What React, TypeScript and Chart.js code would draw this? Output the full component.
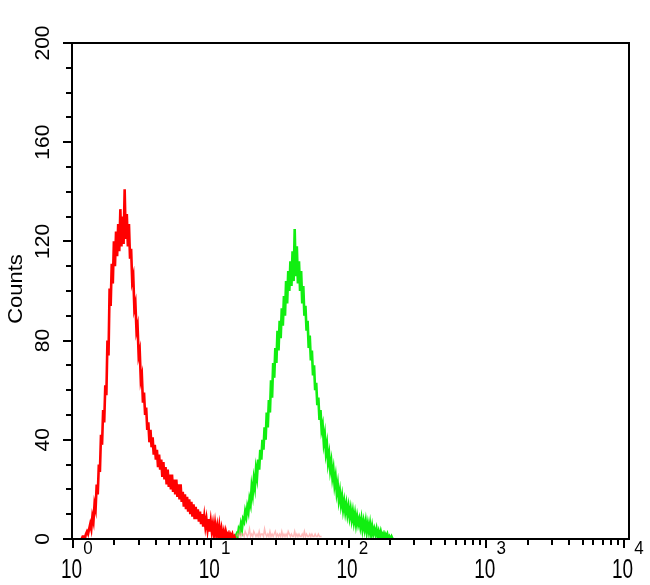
import React, { useEffect, useRef } from "react";
import { Chart, registerables } from "chart.js";

Chart.register(...registerables);

// Histogram binning: 128 channels per decade on a 4-decade log axis
const CHANNELS_PER_DECADE = 128;

// Red (control) histogram counts, starting at channel 8
const RED_START_CHANNEL = 8;
const redCounts = [
  0, 1, 1, 0, 2, 3, 2, 4, 6, 4, 9, 7, 14, 12, 22, 18, 30, 27, 42, 38,
  52, 47, 62, 58, 80, 74, 101, 94, 111, 103, 120, 110, 124, 114, 127, 116, 133, 118, 130, 119,
  141, 121, 131, 118, 127, 113, 117, 104, 106, 93, 95, 84, 86, 74, 76, 64, 66, 55, 59, 50,
  53, 44, 47, 39, 44, 37, 41, 34, 38, 32, 36, 29, 34, 28, 32, 25, 31, 24, 29, 22,
  28, 21, 26, 20, 26, 19, 24, 18, 24, 17, 22, 16, 22, 15, 19, 13, 18, 12, 17, 11,
  16, 10, 15, 9, 14, 8, 13, 8, 12, 7, 11, 6, 10, 5, 9, 5, 8, 4, 8, 3,
  7, 3, 6, 2, 6, 2, 5, 1, 5, 1, 4, 1, 3, 0, 3, 1, 2, 0, 2, 1,
  2, 0, 1, 0,
];

// Faint low-level tail of the red histogram, starting at channel 152
const RED_TAIL_START_CHANNEL = 152;
const redTailCounts = [
  1, 2, 1, 3, 1, 2, 2, 1, 3, 2, 1, 2, 4, 1, 2, 1, 3, 2, 1, 2,
  1, 3, 1, 2, 2, 1, 4, 2, 1, 2, 1, 3, 1, 2, 1, 2, 3, 1, 2, 1,
  2, 1, 3, 1, 2, 1, 2, 1, 3, 2, 1, 2, 1, 1, 3, 1, 2, 1, 2, 1,
  1, 2, 1, 3, 1, 2, 1, 1, 2, 1, 2, 1, 1, 2, 1, 1, 2, 1, 1, 1,
];

// Green (antibody) histogram counts, starting at channel 150
const GREEN_START_CHANNEL = 150;
const greenCounts = [
  0, 1, 2, 1, 4, 3, 6, 4, 8, 7, 11, 9, 13, 11, 16, 14, 21, 18, 24, 21,
  28, 25, 32, 28, 36, 32, 40, 36, 45, 40, 51, 45, 56, 51, 64, 57, 71, 65, 77, 71,
  84, 76, 88, 81, 93, 86, 98, 90, 104, 95, 108, 100, 112, 102, 116, 104, 125, 106, 118, 103,
  112, 100, 108, 95, 102, 90, 94, 84, 88, 77, 82, 72, 76, 66, 70, 60, 63, 54, 57, 48,
  52, 44, 46, 39, 42, 35, 38, 31, 34, 28, 31, 25, 28, 22, 25, 19, 22, 16, 19, 14,
  17, 12, 15, 11, 14, 10, 13, 9, 12, 8, 11, 7, 10, 6, 9, 6, 8, 5, 8, 4,
  7, 4, 7, 3, 6, 3, 6, 2, 5, 2, 4, 2, 4, 1, 3, 1, 3, 1, 2, 0,
  2, 1, 2, 0, 1, 0, 1, 0,
];

const yMajorTicks = [0, 40, 80, 120, 160, 200];
const yMinorStep = 10;
const xDecades = [0, 1, 2, 3, 4];
const yTitle = "Counts";

const FONT = '"Liberation Sans", Arial, sans-serif';

function toPoints(start: number, counts: number[]) {
  return counts.map((c, i) => ({
    x: Math.pow(10, (start + i) / CHANNELS_PER_DECADE),
    y: c,
  }));
}

const axesPlugin = {
  id: "facsAxes",
  afterDatasetsDraw(chart: any) {
    const { ctx, chartArea: a, scales } = chart;
    const xs = scales.x;
    const ys = scales.y;
    ctx.save();
    ctx.strokeStyle = "#000";
    ctx.fillStyle = "#000";
    ctx.lineWidth = 2;
    ctx.strokeRect(a.left, a.top, a.right - a.left, a.bottom - a.top);

    // Y ticks
    const yMax = yMajorTicks[yMajorTicks.length - 1];
    for (let v = 0; v <= yMax; v += yMinorStep) {
      const py = Math.round(ys.getPixelForValue(v));
      const major = yMajorTicks.includes(v);
      ctx.beginPath();
      ctx.moveTo(a.left, py);
      ctx.lineTo(a.left - (major ? 9 : 6), py);
      ctx.stroke();
    }
    // Y labels (rotated)
    ctx.font = `20px ${FONT}`;
    ctx.textAlign = "center";
    ctx.textBaseline = "middle";
    for (const v of yMajorTicks) {
      const py = ys.getPixelForValue(v);
      ctx.save();
      ctx.translate(a.left - 30, py);
      ctx.rotate(-Math.PI / 2);
      ctx.scale(1.05, 1);
      ctx.fillText(String(v), 0, 1);
      ctx.restore();
    }
    // Y title
    ctx.save();
    ctx.translate(16, (a.top + a.bottom) / 2 - 2);
    ctx.rotate(-Math.PI / 2);
    ctx.scale(1.1, 1);
    ctx.fillText(yTitle, 0, 0);
    ctx.restore();

    // X ticks
    for (let i = 0; i < xDecades.length; i++) {
      const d = xDecades[i];
      const base = Math.pow(10, d);
      const px = Math.round(xs.getPixelForValue(base));
      ctx.beginPath();
      ctx.moveTo(px, a.bottom);
      ctx.lineTo(px, a.bottom + 9);
      ctx.stroke();
      if (i < xDecades.length - 1) {
        for (let m = 2; m <= 9; m++) {
          const mx = Math.round(xs.getPixelForValue(m * base));
          ctx.beginPath();
          ctx.moveTo(mx, a.bottom);
          ctx.lineTo(mx, a.bottom + 6);
          ctx.stroke();
        }
      }
    }
    // X labels: 10 with superscript exponent (glyphs are vertically stretched)
    ctx.textAlign = "left";
    ctx.textBaseline = "alphabetic";
    for (const d of xDecades) {
      const px = xs.getPixelForValue(Math.pow(10, d));
      const left = px - 12;
      ctx.font = `19px ${FONT}`;
      const w = ctx.measureText("10").width;
      ctx.save();
      ctx.translate(left, a.bottom + 39);
      ctx.scale(1, 1.42);
      ctx.fillText("10", 0, 0);
      ctx.restore();
      ctx.font = `17px ${FONT}`;
      ctx.save();
      ctx.translate(left + w + 1, a.bottom + 15);
      ctx.scale(1, 1.1);
      ctx.fillText(String(d), 0, 0);
      ctx.restore();
    }
    ctx.restore();
  },
};

export default function App() {
  const canvasRef = useRef<HTMLCanvasElement | null>(null);

  useEffect(() => {
    const canvas = canvasRef.current;
    if (!canvas) return;
    const decadePx = (624 - 73) / 4;
    const common = { pointRadius: 0, tension: 0, fill: false };
    const chart = new Chart(canvas, {
      type: "line",
      data: {
        datasets: [
          {
            label: "tail",
            data: toPoints(RED_TAIL_START_CHANNEL, redTailCounts),
            borderColor: "rgba(255,140,140,0.6)",
            borderWidth: 1.5,
            ...common,
          },
          {
            label: "control",
            data: toPoints(RED_START_CHANNEL, redCounts),
            borderColor: "#ff0000",
            borderWidth: 2.6,
            ...common,
          },
          {
            label: "sample",
            data: toPoints(GREEN_START_CHANNEL, greenCounts),
            borderColor: "#11ee11",
            borderWidth: 2.6,
            ...common,
          },
        ],
      },
      options: {
        animation: false,
        responsive: false,
        devicePixelRatio: 1,
        events: [],
        layout: { padding: { left: 72, right: 21, top: 43, bottom: 46 } },
        plugins: { legend: { display: false }, tooltip: { enabled: false } },
        scales: {
          x: {
            type: "logarithmic",
            display: false,
            min: Math.pow(10, -1 / decadePx),
            max: Math.pow(10, 4 + 5 / decadePx),
          },
          y: { type: "linear", display: false, min: 0, max: 200 },
        },
      },
      plugins: [axesPlugin],
    });
    return () => chart.destroy();
  }, []);

  return (
    <div style={{ position: "absolute", left: 0, top: 0, width: 650, height: 585, background: "#fff" }}>
      <canvas ref={canvasRef} width={650} height={585} />
    </div>
  );
}
